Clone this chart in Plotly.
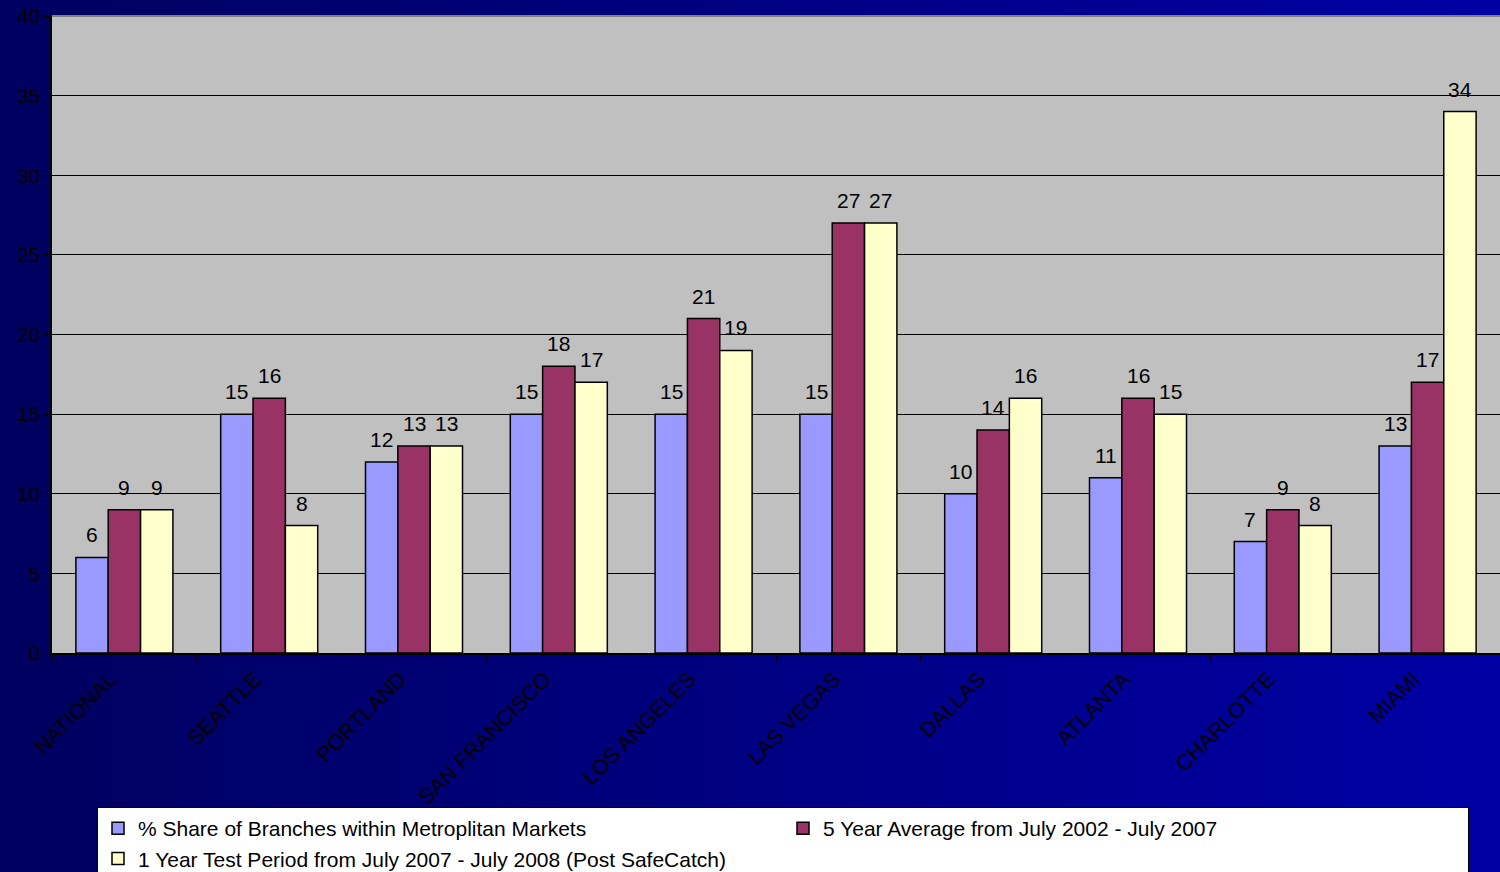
import plotly.graph_objects as go

categories = ["NATIONAL", "SEATTLE", "PORTLAND", "SAN FRANCISCO", "LOS ANGELES",
              "LAS VEGAS", "DALLAS", "ATLANTA", "CHARLOTTE", "MIAMI"]
share_branches = [6, 15, 12, 15, 15, 15, 10, 11, 7, 13]
five_year_avg = [9, 16, 13, 18, 21, 27, 14, 16, 9, 17]
one_year_test = [9, 8, 13, 17, 19, 27, 16, 15, 8, 34]
series_names = ["% Share of Branches within Metroplitan Markets",
                "5 Year Average from July 2002 - July 2007",
                "1 Year Test Period from July 2007 - July 2008 (Post SafeCatch)"]
series_colors = ["#9999FF", "#993366", "#FFFFCC"]

W, H = 1500, 872
ML, MR, MT, MB = 52, 0, 16, 219
PW, PH = W - ML - MR, H - MT - MB
FONT = "Liberation Sans, Arial"
BARGAP = 0.33
all_series = [share_branches, five_year_avg, one_year_test]

fig = go.Figure()
for name, vals, col in zip(series_names, all_series, series_colors):
    fig.add_trace(go.Bar(
        x=categories, y=vals, name=name,
        marker=dict(color=col, line=dict(color="black", width=1.5)),
    ))

# data labels placed above each bar through the axis scales
annotations = []
bw = (1 - BARGAP) / len(all_series)
for j, vals in enumerate(all_series):
    for i, v in enumerate(vals):
        annotations.append(dict(
            x=i + (j - (len(all_series) - 1) / 2) * bw, y=v, xref="x", yref="y",
            text=str(v), showarrow=False, yanchor="bottom", yshift=9,
            font=dict(size=21, color="black", family=FONT)))

# gradient background strips
shapes = []
N = 120
x0p = -ML / PW
x1p = 1 + MR / PW
y0p = -MB / PH
y1p = 1 + MT / PH
for i in range(N):
    t = i / (N - 1)
    b = int(96 + t * (165 - 96))
    xa = x0p + (x1p - x0p) * i / N
    xb = x0p + (x1p - x0p) * (i + 1) / N + 0.002
    shapes.append(dict(type="rect", xref="paper", yref="paper", x0=xa, x1=xb,
                       y0=y0p, y1=y1p, fillcolor=f"rgb(0,0,{b})",
                       line=dict(width=0), layer="below"))
shapes.append(dict(type="rect", xref="paper", yref="paper", x0=0, x1=1, y0=0, y1=1,
                   fillcolor="#C0C0C0", line=dict(width=0), layer="below"))
shapes.append(dict(type="line", xref="paper", yref="paper", x0=0, x1=1, y0=1, y1=1,
                   line=dict(color="#808080", width=2), layer="above"))

fig.update_layout(
    width=W, height=H,
    margin=dict(l=ML, r=MR, t=MT, b=MB, pad=0, autoexpand=False),
    paper_bgcolor="#000080",
    plot_bgcolor="rgba(0,0,0,0)",
    barmode="group", bargap=BARGAP, bargroupgap=0,
    font=dict(family=FONT, size=21, color="black"),
    shapes=shapes,
    annotations=annotations,
    legend=dict(orientation="h", xref="container", yref="container",
                x=97 / W, xanchor="left", y=(H - 807) / H, yanchor="top",
                bgcolor="white", bordercolor="black", borderwidth=1,
                font=dict(size=21, color="black", family=FONT),
                entrywidth=640, entrywidthmode="pixels",
                itemclick=False, tracegroupgap=0),
)
fig.update_xaxes(
    tickangle=-45, tickson="boundaries", ticks="outside", ticklen=6,
    tickcolor="black", showline=True, linecolor="black", linewidth=2,
    tickfont=dict(size=21.5, color="black", family=FONT), showgrid=False,
    automargin=False, ticklabelstandoff=3, ticklabelshift=-14,
)
fig.update_yaxes(
    range=[0, 40], dtick=5, ticks="outside", ticklen=6, tickcolor="black",
    showline=True, linecolor="black", linewidth=1.5,
    showgrid=True, gridcolor="black", gridwidth=1,
    tickfont=dict(size=21, color="black", family=FONT), zeroline=False,
    automargin=False,
)
fig.write_html("out.html")
